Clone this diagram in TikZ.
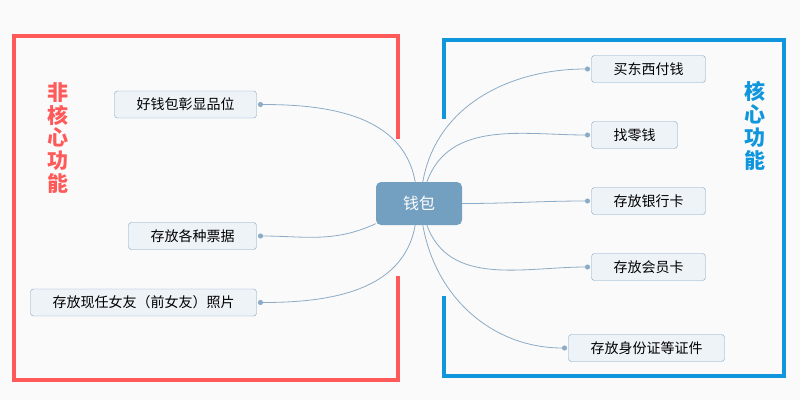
\documentclass[tikz,border=0pt]{standalone}
\usepackage{fontspec}
\setmainfont{Noto Sans CJK SC}
\usetikzlibrary{arrows.meta}
\definecolor{framered}{HTML}{FF5A5A}
\definecolor{frameblue}{HTML}{0F96DC}
\definecolor{linkblue}{HTML}{8CABC6}
\definecolor{boxfill}{HTML}{EEF3F8}
\definecolor{boxline}{HTML}{80A4C4}
\definecolor{rootfill}{HTML}{739FC0}
\begin{document}
\begin{tikzpicture}[x=1pt, y=-1pt, every node/.style={font=\fontsize{14}{16}\selectfont}, topic/.style={draw=boxline, fill=boxfill, rounded corners=3pt, inner xsep=22pt, inner ysep=0pt, minimum height=27pt, outer sep=1.5pt}, root/.style={fill=rootfill, text=white, rounded corners=5pt, minimum width=86pt, minimum height=43pt, font=\fontsize{16}{18}\selectfont}, link/.style={linkblue, line width=0.8pt, -{Circle[length=5pt]}}, frame/.style={line width=4pt}, side/.style={font=\fontsize{21}{22.75}\selectfont\bfseries, align=center, inner sep=0pt}]
	\fill[black!2] (0,0) rectangle (800,400);
	\useasboundingbox (0,0) rectangle (800,400);
	\draw[frame, framered] (398,139) -- (398,36) -- (14,36) -- (14,380) -- (398,380) -- (398,276);
	\draw[frame, frameblue] (444,119) -- (444,40) -- (784,40) -- (784,376) -- (444,376) -- (444,296);
	\node[side, text=framered] (noncore) at (58,138) {非\\核\\心\\功\\能};
	\node[side, text=frameblue] (core) at (755,126) {核\\心\\功\\能};
	\node[root] (wallet) at (419,203.5) {钱包};
	\node[topic, anchor=east] (show) at (258,104.5) {好钱包彰显品位};
	\node[topic, anchor=east] (bills) at (258,236) {存放各种票据};
	\node[topic, anchor=east] (photo) at (258,302.5) {存放现任女友（前女友）照片};
	\node[topic, anchor=west] (pay) at (590,69) {买东西付钱};
	\node[topic, anchor=west] (change) at (590,135) {找零钱};
	\node[topic, anchor=west] (bank) at (590,201) {存放银行卡};
	\node[topic, anchor=west] (member) at (590,267) {存放会员卡};
	\node[topic, anchor=west] (idcard) at (567,348) {存放身份证等证件};
	\draw[link] (wallet) to[out=100, in=0] (show);
	\draw[link] (wallet) to[out=205, in=0] (bills);
	\draw[link] (wallet) to[out=260, in=0] (photo);
	\draw[link] (wallet) to[out=80, in=180] (pay);
	\draw[link] (wallet) to[out=70, in=180] (change);
	\draw[link] (wallet) to[out=0, in=180] (bank);
	\draw[link] (wallet) to[out=290, in=180] (member);
	\draw[link] (wallet) to[out=280, in=180] (idcard);
\end{tikzpicture}
\end{document}
